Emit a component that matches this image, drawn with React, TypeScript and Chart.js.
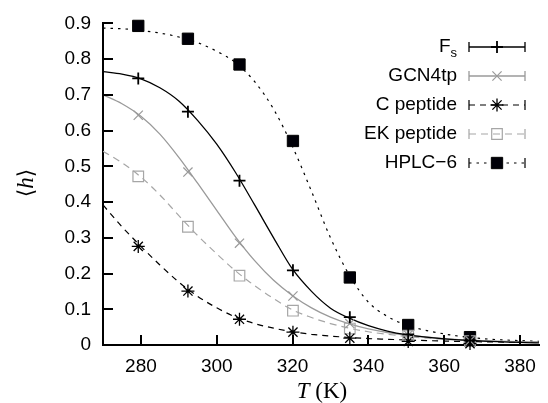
import React, { useEffect, useRef } from 'react';
import { Chart, registerables } from 'chart.js';

Chart.register(...registerables);

// ---------- data ----------
const xTicks = [280, 300, 320, 340, 360, 380];
const yTicks = [0, 0.1, 0.2, 0.3, 0.4, 0.5, 0.6, 0.7, 0.8, 0.9];
const yTickLabels = ['0', '0.1', '0.2', '0.3', '0.4', '0.5', '0.6', '0.7', '0.8', '0.9'];

const seriesNames = ['F_s', 'GCN4tp', 'C peptide', 'EK peptide', 'HPLC\u22126'];

// measured temperatures (K)
const dataT = [279.3, 292.4, 306.0, 320.1, 335.1, 350.5, 366.8];
const fsPoints = [0.746, 0.653, 0.46, 0.209, 0.078, 0.03, 0.013];
const gcnPoints = [0.643, 0.484, 0.285, 0.137, 0.06, 0.028, 0.012];
const cPoints = [0.276, 0.151, 0.072, 0.036, 0.019, 0.01, 0.004];
const ekPoints = [0.472, 0.331, 0.194, 0.096, 0.046, 0.026, 0.011];
const hplcPoints = [0.893, 0.857, 0.785, 0.571, 0.189, 0.056, 0.022];

// fitted curves
const curveT = [270, 275, 280, 285, 290, 295, 300, 305, 310, 315, 320, 325, 330, 335, 340, 345, 350, 360, 370, 385];
const fsCurve = [0.765, 0.758, 0.745, 0.72, 0.683, 0.628, 0.562, 0.482, 0.392, 0.3, 0.212, 0.15, 0.103, 0.075, 0.054, 0.039, 0.029, 0.017, 0.011, 0.006];
const gcnCurve = [0.7, 0.675, 0.64, 0.59, 0.525, 0.452, 0.377, 0.302, 0.236, 0.181, 0.138, 0.104, 0.078, 0.059, 0.045, 0.035, 0.028, 0.018, 0.012, 0.008];
const cCurve = [0.392, 0.331, 0.276, 0.224, 0.176, 0.136, 0.104, 0.078, 0.06, 0.047, 0.037, 0.03, 0.025, 0.021, 0.018, 0.016, 0.014, 0.011, 0.009, 0.007];
const ekCurve = [0.542, 0.51, 0.47, 0.42, 0.362, 0.306, 0.255, 0.207, 0.166, 0.13, 0.098, 0.077, 0.06, 0.047, 0.037, 0.03, 0.024, 0.016, 0.011, 0.007];
const hplcCurve = [0.887, 0.885, 0.88, 0.873, 0.862, 0.846, 0.822, 0.79, 0.737, 0.66, 0.555, 0.43, 0.3, 0.195, 0.12, 0.08, 0.056, 0.031, 0.018, 0.01];

// ---------- styles ----------
const GRAY = '#9a9a9a';
const GRAY2 = '#a6a6a6';
const styles = [
  { color: '#000', dash: [] as number[], point: 'cross', radius: 6, pw: 1.8, fill: 'rgba(0,0,0,0)', lw: 1.3 },
  { color: GRAY, dash: [] as number[], point: 'crossRot', radius: 6.5, pw: 1.2, fill: 'rgba(0,0,0,0)', lw: 1.3 },
  { color: '#000', dash: [6, 5], point: 'star', radius: 6.5, pw: 1.3, fill: 'rgba(0,0,0,0)', lw: 1.2 },
  { color: GRAY2, dash: [7, 5], point: 'rect', radius: 7.5, pw: 1.2, fill: 'rgba(255,255,255,0)', lw: 1.2 },
  { color: '#000', dash: [2.5, 5], point: 'rect', radius: 8, pw: 1, fill: '#000008', lw: 1.2 },
];

const SANS = '"Liberation Sans", Arial, Helvetica, sans-serif';
const SERIF = '"Liberation Serif", "DejaVu Serif", "Times New Roman", serif';

const decorPlugin = {
  id: 'decor',
  afterDraw(chart: any) {
    const ctx = chart.ctx;
    const xs = chart.scales.x;
    const ys = chart.scales.y;
    const ca = chart.chartArea;
    ctx.save();
    // inward tick marks
    ctx.strokeStyle = '#000';
    ctx.lineWidth = 2;
    ctx.setLineDash([]);
    ctx.beginPath();
    xTicks.forEach((v) => {
      const px = Math.round(xs.getPixelForValue(v));
      ctx.moveTo(px, ca.bottom);
      ctx.lineTo(px, ca.bottom - 10);
    });
    yTicks.forEach((v) => {
      const py = Math.round(ys.getPixelForValue(v));
      ctx.moveTo(ca.left, py);
      ctx.lineTo(ca.left + 10, py);
    });
    ctx.stroke();

    // x title: T (K)
    ctx.fillStyle = '#000';
    ctx.textBaseline = 'alphabetic';
    const tFont = 'italic 23px ' + SERIF;
    const kFont = '23px ' + SERIF;
    ctx.font = tFont;
    const wT = ctx.measureText('T').width;
    ctx.font = kFont;
    const wK = ctx.measureText(' (K)').width;
    const cx = (ca.left + ca.right) / 2 + 1;
    let sx = cx - (wT + wK) / 2;
    ctx.font = tFont;
    ctx.textAlign = 'left';
    ctx.fillText('T', sx, 398);
    ctx.font = kFont;
    ctx.fillText(' (K)', sx + wT, 398);

    // y title: <h>
    ctx.save();
    ctx.translate(33, 183);
    ctx.rotate(-Math.PI / 2);
    const bFont = '22px ' + SERIF;
    const hFont = 'italic 23px ' + SERIF;
    ctx.font = bFont;
    const wl = ctx.measureText('\u27E8').width;
    const wr = ctx.measureText('\u27E9').width;
    ctx.font = hFont;
    const wh = ctx.measureText('h').width;
    let yx = -(wl + wh + wr) / 2;
    ctx.font = bFont;
    ctx.fillText('\u27E8', yx, 0);
    ctx.font = hFont;
    ctx.fillText('h', yx + wl, 0);
    ctx.font = bFont;
    ctx.fillText('\u27E9', yx + wl + wh, 0);
    ctx.restore();

    // legend
    const textRight = 457;
    const lineL = 469;
    const lineR = 525;
    const mid = 497;
    seriesNames.forEach((name, i) => {
      const st = styles[i];
      const y = 47 + i * 29;
      ctx.fillStyle = '#000';
      ctx.textAlign = 'right';
      ctx.textBaseline = 'middle';
      if (name === 'F_s') {
        ctx.font = '13px ' + SANS;
        const ws = ctx.measureText('s').width;
        ctx.fillText('s', textRight, y + 6);
        ctx.font = '19px ' + SANS;
        ctx.fillText('F', textRight - ws, y);
      } else {
        ctx.font = '19px ' + SANS;
        ctx.fillText(name, textRight, y);
      }
      ctx.strokeStyle = st.color;
      ctx.lineWidth = st.lw;
      ctx.setLineDash(st.dash);
      ctx.beginPath();
      ctx.moveTo(lineL, y);
      ctx.lineTo(lineR, y);
      ctx.stroke();
      ctx.setLineDash([]);
      ctx.beginPath();
      ctx.moveTo(lineL, y - 5);
      ctx.lineTo(lineL, y + 5);
      ctx.moveTo(lineR, y - 5);
      ctx.lineTo(lineR, y + 5);
      ctx.stroke();
      // marker
      ctx.strokeStyle = st.color;
      ctx.fillStyle = st.fill;
      ctx.lineWidth = st.pw;
      ctx.setLineDash([]);
      (Chart as any).helpers
        ? null
        : null;
      drawMarker(ctx, st.point, st.radius, mid, y, st.fill, st.color, st.pw);
    });
    ctx.restore();
  },
};

function drawMarker(ctx: CanvasRenderingContext2D, style: string, r: number, x: number, y: number, fill: string, stroke: string, lw: number) {
  ctx.save();
  ctx.strokeStyle = stroke;
  ctx.fillStyle = fill;
  ctx.lineWidth = lw;
  ctx.beginPath();
  if (style === 'cross') {
    ctx.moveTo(x - r, y); ctx.lineTo(x + r, y);
    ctx.moveTo(x, y - r); ctx.lineTo(x, y + r);
    ctx.stroke();
  } else if (style === 'crossRot') {
    const d = r * Math.SQRT1_2 * 1.0;
    ctx.moveTo(x - d, y - d); ctx.lineTo(x + d, y + d);
    ctx.moveTo(x - d, y + d); ctx.lineTo(x + d, y - d);
    ctx.stroke();
  } else if (style === 'star') {
    const d = r * Math.SQRT1_2;
    ctx.moveTo(x - r, y); ctx.lineTo(x + r, y);
    ctx.moveTo(x, y - r); ctx.lineTo(x, y + r);
    ctx.moveTo(x - d, y - d); ctx.lineTo(x + d, y + d);
    ctx.moveTo(x - d, y + d); ctx.lineTo(x + d, y - d);
    ctx.stroke();
  } else {
    const s = r * Math.SQRT1_2;
    ctx.rect(x - s, y - s, 2 * s, 2 * s);
    ctx.fill();
    ctx.stroke();
  }
  ctx.restore();
}

const pointSets = [fsPoints, gcnPoints, cPoints, ekPoints, hplcPoints];
const curveSets = [fsCurve, gcnCurve, cCurve, ekCurve, hplcCurve];

export default function App() {
  const ref = useRef<HTMLCanvasElement>(null);
  useEffect(() => {
    if (!ref.current) return;
    const datasets: any[] = [];
    pointSets.forEach((pts, i) => {
      const st = styles[i];
      datasets.push({
        label: seriesNames[i] + ' data',
        data: dataT.map((t, k) => ({ x: t, y: pts[k] })),
        showLine: false,
        pointStyle: st.point,
        pointRadius: st.radius,
        pointBorderWidth: st.pw,
        pointBorderColor: st.color,
        pointBackgroundColor: st.fill,
        borderColor: st.color,
        backgroundColor: st.fill,
        clip: false,
        order: 1,
      });
    });
    curveSets.forEach((cv, i) => {
      const st = styles[i];
      datasets.push({
        label: seriesNames[i] + ' fit',
        data: curveT.map((t, k) => ({ x: t, y: cv[k] })),
        showLine: true,
        borderColor: st.color,
        borderWidth: st.lw,
        borderDash: st.dash,
        pointRadius: 0,
        cubicInterpolationMode: 'monotone',
        fill: false,
        order: 2,
      });
    });
    const chart = new Chart(ref.current, {
      type: 'scatter',
      data: { datasets },
      options: {
        animation: false,
        responsive: false,
        maintainAspectRatio: false,
        layout: { padding: { top: 22, right: 0, left: 0, bottom: 0 } },
        plugins: { legend: { display: false }, tooltip: { enabled: false } },
        scales: {
          x: {
            type: 'linear',
            min: 270,
            max: 385,
            afterBuildTicks: (s: any) => { s.ticks = xTicks.map((v) => ({ value: v })); },
            afterFit: (s: any) => { s.height = 58; },
            grid: { display: false, drawTicks: false },
            border: { display: true, color: '#000', width: 2 },
            ticks: {
              color: '#000',
              padding: 10,
              font: { family: SANS, size: 19 },
              maxRotation: 0,
              callback: (v: any) => String(v),
            },
          },
          y: {
            type: 'linear',
            min: 0,
            max: 0.9,
            afterBuildTicks: (s: any) => { s.ticks = yTicks.map((v) => ({ value: v })); },
            afterFit: (s: any) => { s.width = 103; },
            grid: { display: false, drawTicks: false },
            border: { display: true, color: '#000', width: 2 },
            ticks: {
              color: '#000',
              padding: 12,
              font: { family: SANS, size: 19 },
              callback: (v: any, idx: number) => yTickLabels[idx],
            },
          },
        },
      },
      plugins: [decorPlugin],
    });
    return () => chart.destroy();
  }, []);
  return (
    <div style={{ position: 'fixed', left: 0, top: 0, width: 548, height: 403, background: '#fff' }}>
      <canvas ref={ref} width={548} height={403} style={{ width: 548, height: 403, display: 'block' }} />
    </div>
  );
}
